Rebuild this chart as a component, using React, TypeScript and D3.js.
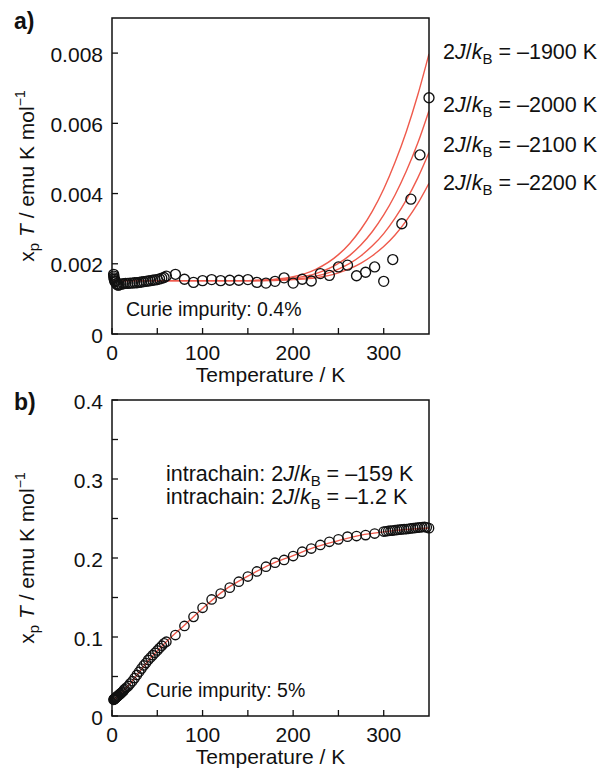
import React from "react";
import * as d3 from "d3";

// ---------- panel a: measured χpT and model curves ----------
const tempA = [
  1.8, 2.0, 2.2, 2.5, 3, 3.5, 4, 5, 6, 7, 8, 10, 12.5, 15, 17.5, 20, 22.5, 25, 27.5, 30, 32.5, 35,
  37.5, 40, 42.5, 45, 47.5, 50, 52.5, 55, 57.5, 60, 70, 80, 90, 100, 110, 120, 130, 140, 150, 160,
  170, 180, 190, 200, 210, 220, 230, 240, 250, 260, 270, 280, 290, 300, 310, 320, 330, 340, 350,
];
const chiTA = [
  0.0017, 0.00165, 0.0016, 0.00156, 0.00152, 0.00148, 0.0015, 0.00143, 0.0014, 0.00139, 0.0014,
  0.00142, 0.00143, 0.00144, 0.00144, 0.00145, 0.00145, 0.00146, 0.00146, 0.00147, 0.00148,
  0.00149, 0.0015, 0.00151, 0.00152, 0.00153, 0.00154, 0.00155, 0.00157, 0.00159, 0.00161,
  0.00165, 0.0017, 0.00156, 0.00147, 0.00152, 0.00155, 0.00152, 0.00153, 0.00153, 0.00155,
  0.00147, 0.00145, 0.0015, 0.0016, 0.00145, 0.00156, 0.00151, 0.00172, 0.00167, 0.00191,
  0.00196, 0.00166, 0.00176, 0.00191, 0.0015, 0.00212, 0.00314, 0.00384, 0.0051, 0.00673,
];

const curveTempA = [2, 50, 100, 150, 175, 200, 225, 250, 262.5, 275, 287.5, 300, 312.5, 325, 337.5, 350];
const fitJ1900 = [0.00152, 0.00152, 0.00152, 0.00152, 0.00155, 0.00163, 0.00184, 0.00226, 0.00258, 0.00299, 0.0035, 0.00413, 0.00489, 0.00577, 0.0068, 0.00798];
const fitJ2000 = [0.00152, 0.00152, 0.00152, 0.00152, 0.00154, 0.00159, 0.00172, 0.00201, 0.00224, 0.00254, 0.00292, 0.00339, 0.00396, 0.00464, 0.00543, 0.00636];
const fitJ2100 = [0.00152, 0.00152, 0.00152, 0.00152, 0.00153, 0.00156, 0.00165, 0.00185, 0.00201, 0.00223, 0.00251, 0.00286, 0.0033, 0.00382, 0.00444, 0.00517];
const fitJ2200 = [0.00152, 0.00152, 0.00152, 0.00152, 0.00152, 0.00155, 0.0016, 0.00174, 0.00186, 0.00202, 0.00223, 0.00249, 0.00282, 0.00323, 0.00371, 0.00429];
const fitLabelsA = ["1900", "2000", "2100", "2200"];

// ---------- panel b: measured χpT and fit ----------
const tempB = [
  1.8, 2, 2.3, 2.6, 3, 3.5, 4, 4.5, 5, 5.5, 6, 6.5, 7, 8, 9, 10, 11, 12, 13, 14, 16, 18, 20, 22.5,
  25, 27.5, 30, 32.5, 35, 37.5, 40, 42.5, 45, 47.5, 50, 52.5, 55, 57.5, 60, 70, 80, 90, 100, 110,
  120, 130, 140, 150, 160, 170, 180, 190, 200, 210, 220, 230, 240, 250, 260, 270, 280, 290, 300,
  302.5, 305, 307.5, 310, 312.5, 315, 317.5, 320, 322.5, 325, 327.5, 330, 332.5, 335, 337.5, 340,
  342.5, 345, 347.5, 350,
];
const chiTB = [
  0.0205, 0.021, 0.0213, 0.0216, 0.022, 0.0225, 0.023, 0.0235, 0.024, 0.0245, 0.025, 0.0255,
  0.026, 0.027, 0.028, 0.029, 0.03, 0.031, 0.0325, 0.034, 0.036, 0.038, 0.041, 0.044, 0.048,
  0.052, 0.056, 0.06, 0.064, 0.067, 0.071, 0.074, 0.077, 0.08, 0.083, 0.086, 0.089, 0.092, 0.094,
  0.1025, 0.114, 0.1255, 0.137, 0.1475, 0.155, 0.1625, 0.17, 0.1765, 0.183, 0.189, 0.194, 0.1975,
  0.2025, 0.208, 0.212, 0.2165, 0.2205, 0.2236, 0.227, 0.2278, 0.229, 0.231, 0.2335, 0.2338,
  0.2342, 0.2345, 0.2348, 0.2352, 0.2355, 0.2358, 0.2361, 0.2364, 0.2367, 0.237, 0.2374, 0.2377,
  0.238, 0.2384, 0.2388, 0.2392, 0.2393, 0.2388, 0.2378,
];
const fitTempB = [2, 10, 20, 40, 60, 80, 100, 125, 150, 175, 200, 225, 250, 275, 300, 325, 350];
const fitChiTB = [0.021, 0.029, 0.041, 0.07, 0.094, 0.115, 0.136, 0.16, 0.177, 0.192, 0.203, 0.214, 0.222, 0.229, 0.233, 0.236, 0.238];

const ticksXMajor = [0, 100, 200, 300];
const ticksXMinor = [50, 150, 250];
const ticksYA = [0, 0.002, 0.004, 0.006, 0.008];
const ticksYB = [0, 0.1, 0.2, 0.3, 0.4];
const ticksYBMinor = [0.05, 0.15, 0.25, 0.35];

const FONT = "'Liberation Sans', Arial, Helvetica, sans-serif";
const RED = "#ef5a4c";

const left = 112;
const right = 429;
const xA = d3.scaleLinear().domain([0, 350]).range([left, right]);
const yA = d3.scaleLinear().domain([0, 0.009]).range([334, 18]);
const xB = d3.scaleLinear().domain([0, 350]).range([left, right]);
const yB = d3.scaleLinear().domain([0, 0.4]).range([716, 400]);

function YLabel({ x, y }: { x: number; y: number }) {
  return (
    <text
      transform={`translate(${x},${y}) rotate(-90)`}
      textAnchor="middle"
      fontSize={21}
      fontFamily={FONT}
      fill="#111"
    >
      x
      <tspan fontSize={15} dy={5}>p</tspan>
      <tspan dy={-5}> </tspan>
      <tspan fontStyle="italic">T</tspan>
      <tspan> / emu K mol</tspan>
      <tspan fontSize={14} dy={-9}>−1</tspan>
    </text>
  );
}

function Frame({
  x,
  y,
  yTicks,
  yMinor,
  yFmt,
}: {
  x: d3.ScaleLinear<number, number>;
  y: d3.ScaleLinear<number, number>;
  yTicks: number[];
  yMinor: number[];
  yFmt: (v: number) => string;
}) {
  const [x0, x1] = x.range();
  const [y0, y1] = y.range();
  const tick = 6;
  return (
    <g fontFamily={FONT} fill="#111">
      <rect x={x0} y={y1} width={x1 - x0} height={y0 - y1} fill="none" stroke="#111" strokeWidth={1.5} />
      {ticksXMajor.concat(ticksXMinor).map((t) => (
        <line key={"xt" + t} x1={x(t)} x2={x(t)} y1={y0} y2={y0 - tick} stroke="#111" strokeWidth={1.3} />
      ))}
      {ticksXMajor.map((t) => (
        <text key={"xl" + t} x={x(t)} y={y0 + 26} textAnchor="middle" fontSize={21}>
          {t}
        </text>
      ))}
      {yTicks.concat(yMinor).map((t) => (
        <line key={"yt" + t} x1={x0} x2={x0 + tick} y1={y(t)} y2={y(t)} stroke="#111" strokeWidth={1.3} />
      ))}
      {yTicks.map((t) => (
        <text key={"yl" + t} x={103} y={y(t) + 8.5} textAnchor="end" fontSize={21}>
          {yFmt(t)}
        </text>
      ))}
      <text x={(x0 + x1) / 2} y={y0 + 48} textAnchor="middle" fontSize={21}>
        Temperature / K
      </text>
    </g>
  );
}

function JLabel({ x, y, prefix, value }: { x: number; y: number; prefix?: string; value: string }) {
  return (
    <text x={x} y={y} fontSize={21.5} fontFamily={FONT} fill="#111">
      {prefix}2<tspan fontStyle="italic">J</tspan>/<tspan fontStyle="italic">k</tspan>
      <tspan fontSize={15} dy={5}>B</tspan>
      <tspan dy={-5}> = –{value} K</tspan>
    </text>
  );
}

export default function App() {
  const lineA = d3
    .line<number>()
    .x((_, i) => xA(curveTempA[i]))
    .y((d) => yA(d))
    .curve(d3.curveMonotoneX);
  const fitsA = [fitJ1900, fitJ2000, fitJ2100, fitJ2200];

  const lineB = d3
    .line<number>()
    .x((_, i) => xB(fitTempB[i]))
    .y((d) => yB(d))
    .curve(d3.curveMonotoneX);

  const labelYA = [59, 111.5, 151.5, 190];

  return (
    <div style={{ position: "absolute", left: 0, top: 0 }}>
      <svg width={599} height={770} viewBox="0 0 599 770" style={{ display: "block", background: "#fff" }}>
        {/* panel a */}
        <text x={14} y={29} fontSize={23} fontWeight="bold" fontFamily={FONT} fill="#111">a)</text>
        <defs>
          <clipPath id="clipA">
            <rect x={left} y={18} width={right - left} height={316} />
          </clipPath>
        </defs>
        <g clipPath="url(#clipA)">
          {fitsA.map((vals, k) => (
            <path key={k} d={lineA(vals) || ""} fill="none" stroke={RED} strokeWidth={1.4} />
          ))}
        </g>
        {chiTA.map((v, i) => (
          <circle key={"a" + i} cx={xA(tempA[i])} cy={yA(v)} r={5} fill="none" stroke="#111" strokeWidth={1.35} />
        ))}
        <Frame x={xA} y={yA} yTicks={ticksYA} yMinor={[]} yFmt={(v) => (v === 0 ? "0" : d3.format(".3f")(v))} />
        <YLabel x={33.5} y={176} />
        <text x={126} y={316} fontSize={19.5} fontFamily={FONT} fill="#111">Curie impurity: 0.4%</text>
        {fitLabelsA.map((lab, k) => (
          <JLabel key={lab} x={443} y={labelYA[k]} value={lab} />
        ))}

        {/* panel b */}
        <text x={14} y={410} fontSize={23} fontWeight="bold" fontFamily={FONT} fill="#111">b)</text>
        <path d={lineB(fitChiTB) || ""} fill="none" stroke={RED} strokeWidth={1.4} />
        {chiTB.map((v, i) => (
          <circle key={"b" + i} cx={xB(tempB[i])} cy={yB(v)} r={4.7} fill="none" stroke="#111" strokeWidth={1.35} />
        ))}
        <Frame x={xB} y={yB} yTicks={ticksYB} yMinor={ticksYBMinor} yFmt={(v) => (v === 0 ? "0" : d3.format(".1f")(v))} />
        <YLabel x={33.5} y={558} />
        <text x={146} y={697} fontSize={19.5} fontFamily={FONT} fill="#111">Curie impurity: 5%</text>
        <JLabel x={166} y={481} prefix="intrachain: " value="159" />
        <JLabel x={166} y={504} prefix="intrachain: " value="1.2" />
      </svg>
    </div>
  );
}
